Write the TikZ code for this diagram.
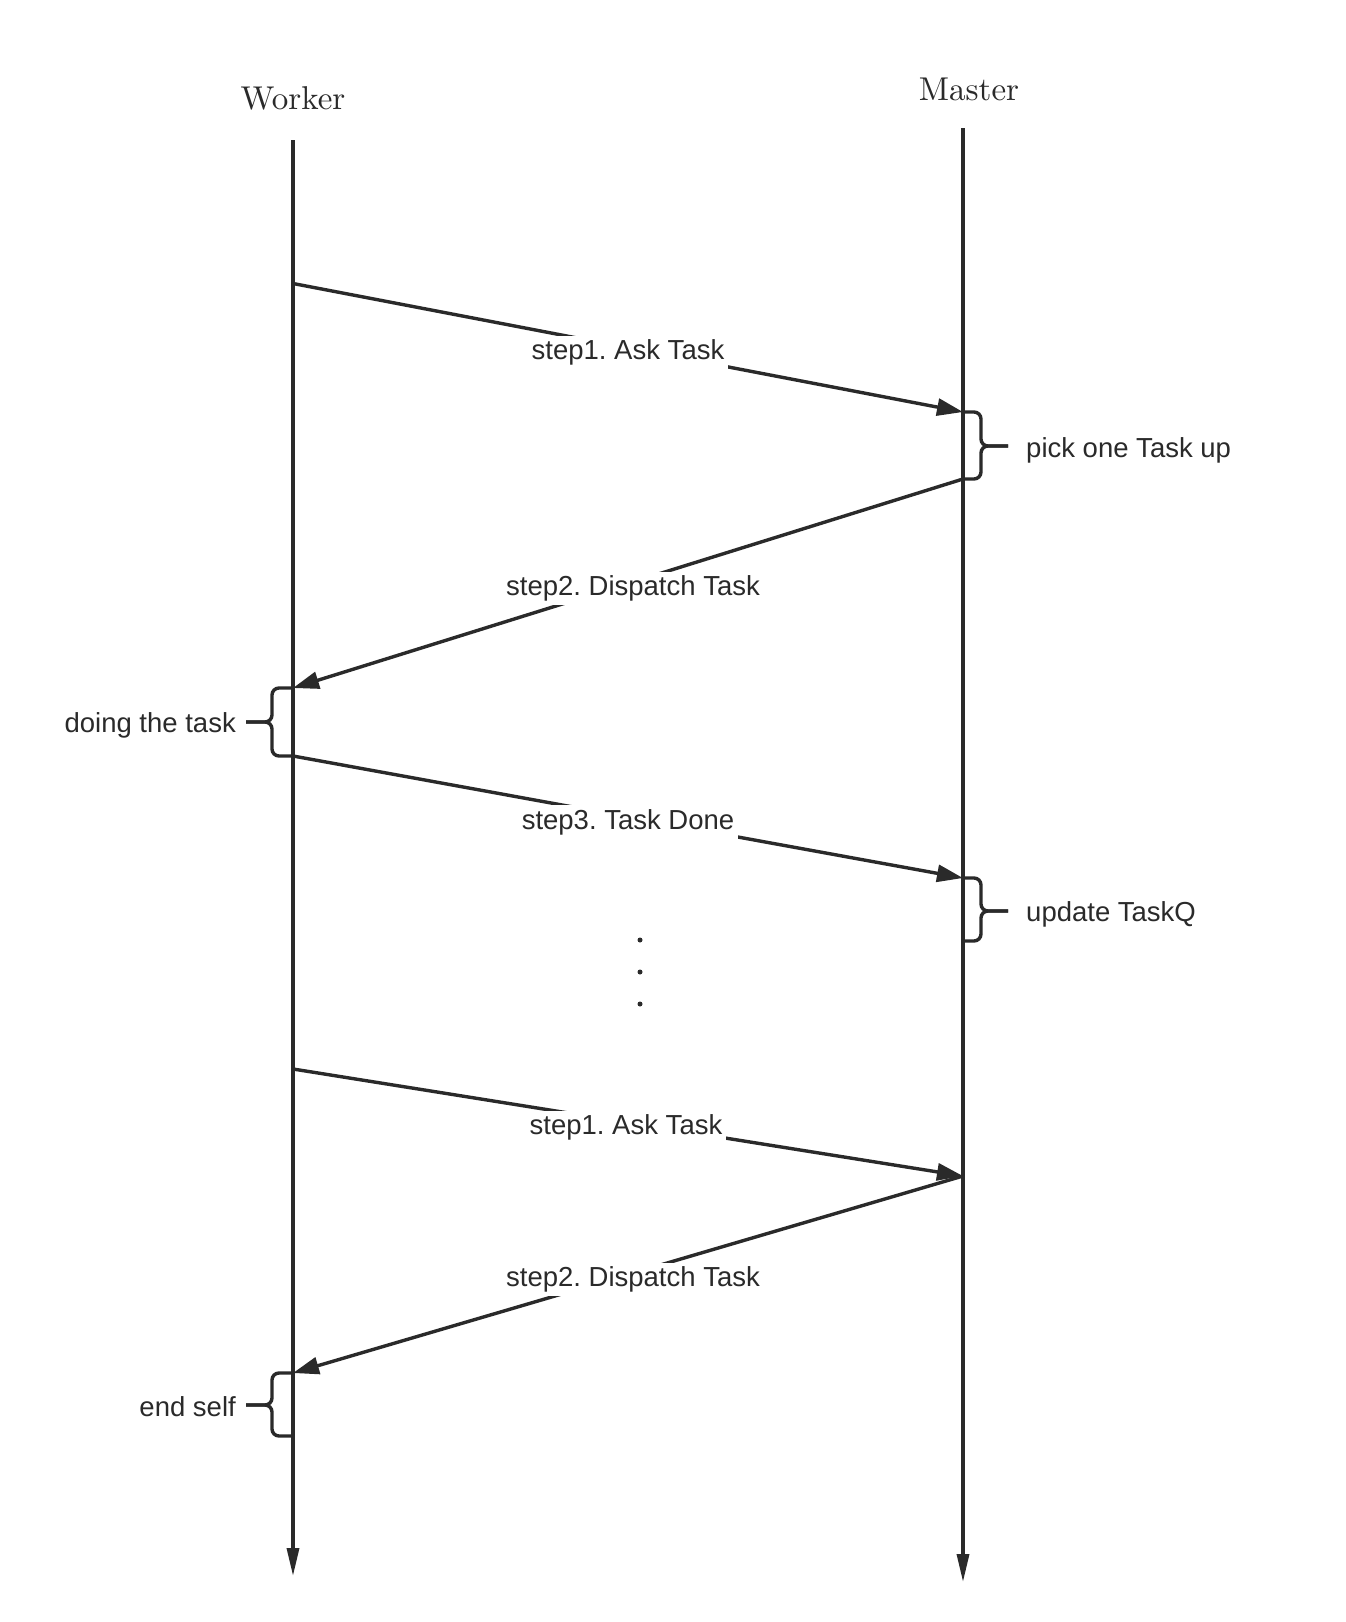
\documentclass[tikz,border=0pt]{standalone}
\usepackage{fontspec}
\setsansfont{Liberation Sans}
\newfontfamily\actorfont{lmroman10-regular}[Extension=.otf]
\usetikzlibrary{arrows.meta}
\definecolor{ink}{HTML}{2A2A2A}
\frenchspacing
\begin{document}
\frenchspacing
\begin{tikzpicture}[x=1pt,y=-1pt,
  lifeline/.style={draw=ink, line width=3.4pt, -{Triangle[length=28pt,width=12pt]}},
  msg/.style={draw=ink, line width=3.4pt, -{Triangle[length=26pt,width=17pt]}},
  msglabel/.style={fill=white, inner sep=4pt, yshift=-5pt, font=\sffamily\fontsize{27.5}{32}\selectfont, text=ink},
  actor/.style={font=\actorfont\fontsize{33}{38}\selectfont, text=ink},
  note/.style={font=\sffamily\fontsize{27.5}{32}\selectfont, text=ink, inner sep=0pt},
  bracket/.style={draw=ink, line width=3.4pt, rounded corners=7pt}]
\useasboundingbox (0,0) rectangle (1346,1622);
\fill[white] (0,0) rectangle (1346,1622);
% actors
\node[actor] (wk) at (293,98) {Worker};
\node[actor] (ms) at (969,89) {Master};
% lifeline coordinates
\coordinate (wtop) at (293,140);
\coordinate (wbot) at (293,1576);
\coordinate (mtop) at (963,128);
\coordinate (mbot) at (963,1582);
\draw[lifeline] (wtop) -- (wbot);
\draw[lifeline] (mtop) -- (mbot);
% message points
\coordinate (w1) at (293,283.5);
\coordinate (m1) at (963,412);
\coordinate (m2) at (963,479);
\coordinate (w2) at (293,688);
\coordinate (w3) at (293,756);
\coordinate (m3) at (963,878);
\coordinate (w4) at (293,1069);
\coordinate (m4) at (963,1176);
\coordinate (w5) at (293,1373);
% messages
\draw[msg] (w1) -- node[msglabel] (l1) {step1. Ask Task} (m1);
\draw[msg] (m2) -- node[msglabel, xshift=5pt] (l2) {step2. Dispatch Task} (w2);
\draw[msg] (w3) -- node[msglabel] (l3) {step3. Task Done} (m3);
\draw[msg] (w4) -- node[msglabel, xshift=-2pt] (l4) {step1. Ask Task} (m4);
\draw[msg] (m4) -- node[msglabel, xshift=5pt] (l5) {step2. Dispatch Task} (w5);
% braces
\draw[bracket] (963,412) -- (981,412) -- (981,446) -- (1008,446);
\draw[bracket] (963,479) -- (981,479) -- (981,446) -- (1008,446);
\node[note, anchor=west] (n1) at (1026,450) {pick one Task up};
\draw[bracket] (293,688) -- (272,688) -- (272,722) -- (246,722);
\draw[bracket] (293,756) -- (272,756) -- (272,722) -- (246,722);
\node[note, anchor=east] (n2) at (236,725) {doing the task};
\draw[bracket] (963,878) -- (981,878) -- (981,911) -- (1008,911);
\draw[bracket] (963,941) -- (981,941) -- (981,911) -- (1008,911);
\node[note, anchor=west] (n3) at (1026,914) {update TaskQ};
\draw[bracket] (293,1373) -- (272,1373) -- (272,1405) -- (246,1405);
\draw[bracket] (293,1436) -- (272,1436) -- (272,1405) -- (246,1405);
\node[note, anchor=east] (n4) at (236,1407) {end self};
% dots
\fill[ink] (640,940) circle (2.5);
\fill[ink] (640,972) circle (2.5);
\fill[ink] (640,1004) circle (2.5);
\end{tikzpicture}
\end{document}
